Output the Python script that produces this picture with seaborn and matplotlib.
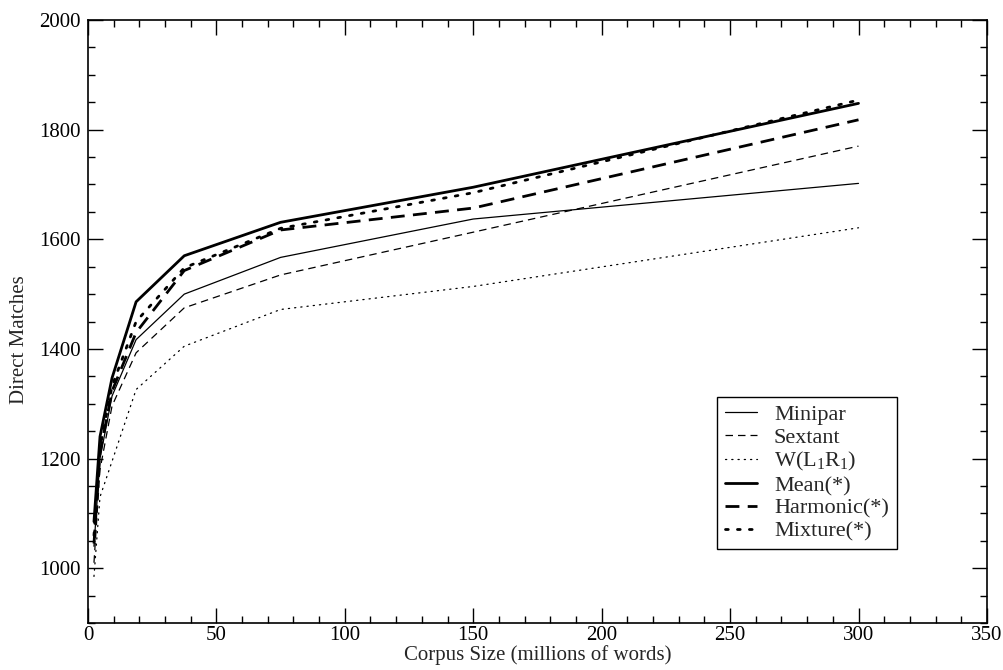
import matplotlib
matplotlib.use("Agg")
import matplotlib.pyplot as plt
import seaborn as sns
import numpy as np

corpus_size = [2.34375, 4.6875, 9.375, 18.75, 37.5, 75, 150, 300]
minipar  = [1040, 1200, 1314, 1417, 1500, 1567, 1637, 1702]
sextant  = [1010, 1180, 1296, 1393, 1475, 1535, 1613, 1770]
w_l1r1   = [985, 1130, 1195, 1326, 1405, 1472, 1514, 1621]
mean     = [1085, 1240, 1347, 1486, 1570, 1631, 1695, 1848]
harmonic = [1045, 1210, 1323, 1430, 1543, 1617, 1657, 1818]
mixture  = [1060, 1220, 1332, 1450, 1548, 1620, 1685, 1854]

labels = ["Minipar", "Sextant", r"W(L$_1$R$_1$)", "Mean(*)", "Harmonic(*)", "Mixture(*)"]
series = [minipar, sextant, w_l1r1, mean, harmonic, mixture]

sns.set_style("ticks")
plt.rcParams["font.family"] = ["Liberation Serif", "DejaVu Serif"]
plt.rcParams["mathtext.fontset"] = "custom"
plt.rcParams["mathtext.rm"] = "Liberation Serif"
plt.rcParams["mathtext.it"] = "Liberation Serif:italic"

fig = plt.figure(figsize=(10.04, 6.70), dpi=100)
ax = fig.add_axes([0.0876, 0.0701, 0.8954, 0.9000])

styles = [
    dict(lw=0.9, dashes=None),
    dict(lw=0.9, dashes=(6, 4)),
    dict(lw=0.9, dashes=(1, 4)),
    dict(lw=2.0, dashes=None),
    dict(lw=2.0, dashes=(5, 3)),
    dict(lw=2.0, dashes=(1, 3.3)),
]

for lab, ys, st in zip(labels, series, styles):
    sns.lineplot(x=corpus_size, y=ys, ax=ax, color="black", linewidth=st["lw"], label=lab)
    line = ax.lines[-1]
    if st["dashes"] is not None:
        line.set_dashes(st["dashes"])
        if st["dashes"][0] == 1:
            line.set_dash_capstyle("round")

ax.set_xlim(0, 350)
ax.set_ylim(900, 2000)
ax.set_xticks(np.arange(0, 351, 50))
ax.set_xticks(np.arange(0, 351, 10), minor=True)
ax.set_yticks(np.arange(1000, 2001, 200))
ax.set_yticks(np.arange(900, 2001, 50), minor=True)
ax.tick_params(which="both", direction="in", top=True, right=True, labelsize=15, width=1.0, colors="black")
ax.tick_params(which="major", length=11)
ax.tick_params(axis="y", which="major", pad=5)
ax.tick_params(axis="x", which="major", pad=2)
ax.tick_params(which="minor", length=5)
for s in ax.spines.values():
    s.set_linewidth(1.2)
    s.set_color("black")

ax.set_xlabel("Corpus Size (millions of words)", fontsize=15, labelpad=0)
ax.set_ylabel("Direct Matches", fontsize=15)
ax.yaxis.set_label_coords(-0.066, 0.47)

leg = ax.legend(loc="upper left", bbox_to_anchor=(0.700, 0.375), fontsize=16,
                frameon=True, fancybox=False, edgecolor="black", framealpha=1,
                handlelength=1.45, handletextpad=0.75, labelspacing=0.1, borderpad=0.35,
                borderaxespad=0)
leg.get_frame().set_linewidth(1.0)

fig.savefig("out.png", dpi=100)
